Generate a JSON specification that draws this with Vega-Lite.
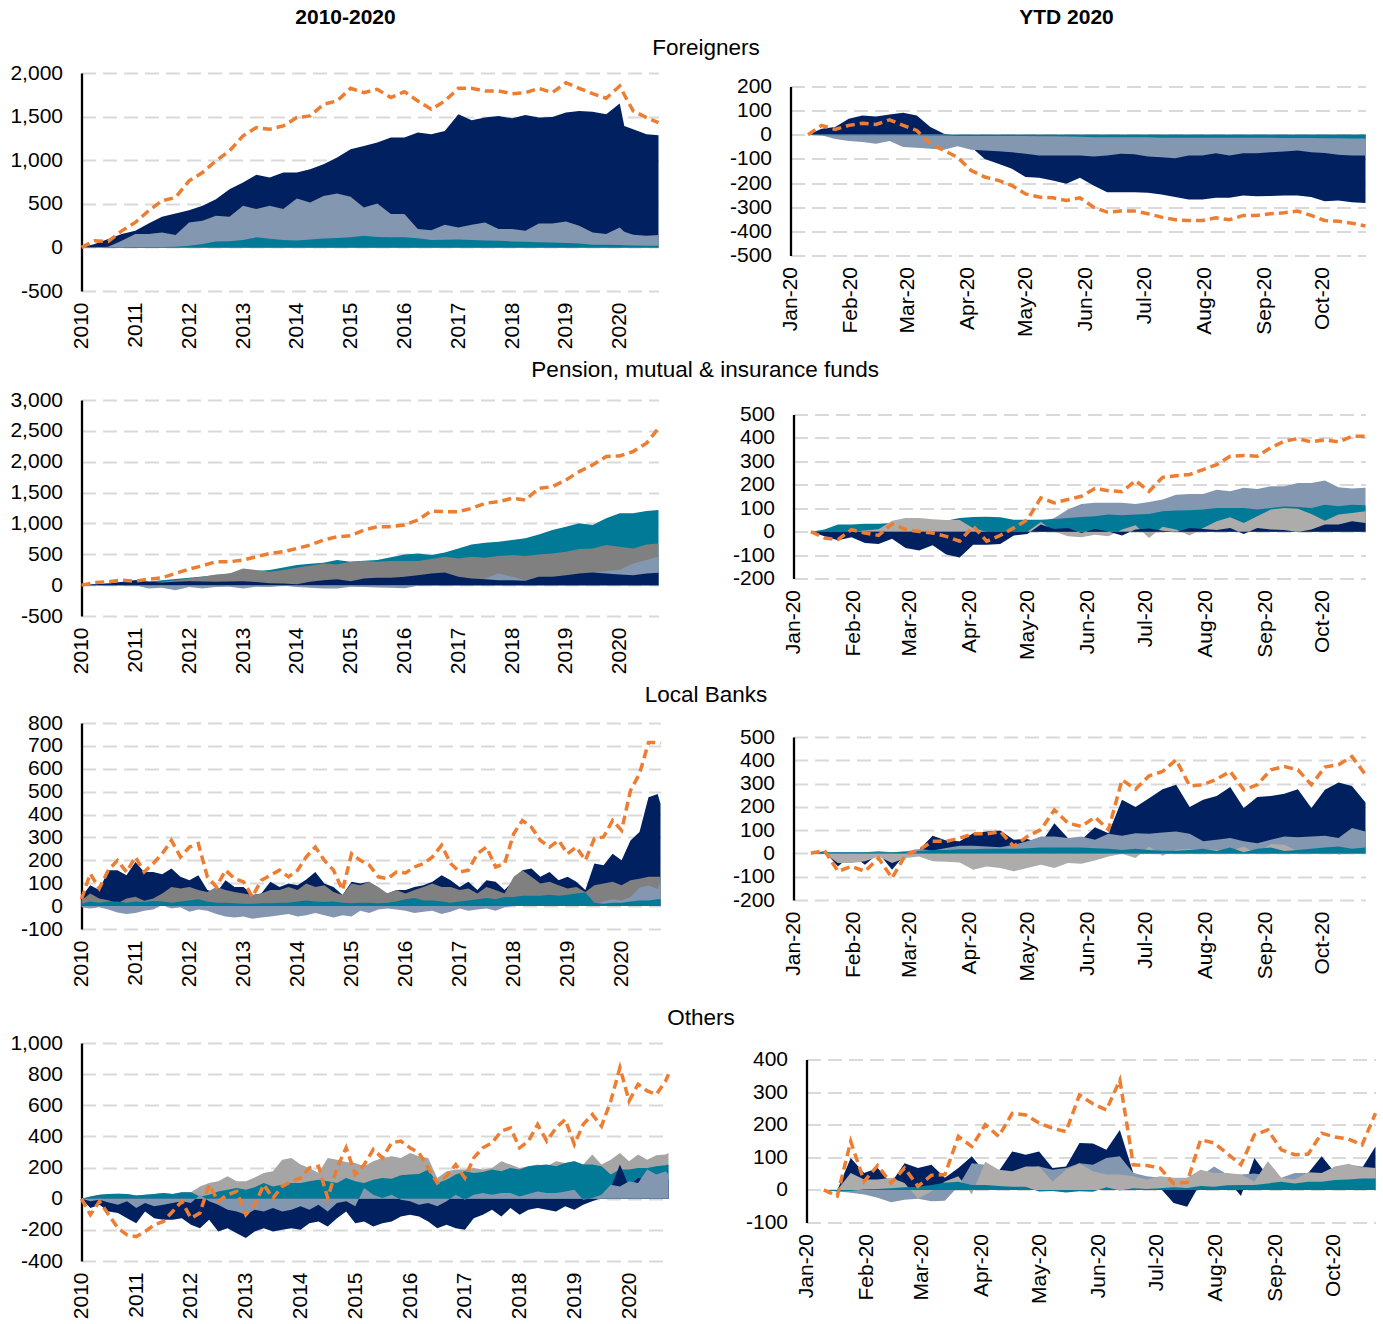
{
"$schema":"https://vega.github.io/schema/vega-lite/v6.json",
"padding":{"left":9.5,"top":7,"right":2,"bottom":5},
"background":"white",
"config":{
 "view":{"stroke":null},
 "font":"Liberation Sans",
 "axis":{"labelFont":"Liberation Sans","labelFontSize":21,"labelColor":"#000","ticks":false,"grid":false,"domain":false,"title":null},
 "axisY":{"grid":true,"gridColor":"#D9D9D9","gridWidth":2,"gridDash":[14,7],"domain":true,"domainColor":"#000","domainWidth":2.3,"labelPadding":19,"labelOverlap":false},
 "axisX":{"labelAngle":-90,"labelPadding":11,"labelFlush":false,"labelOverlap":false},
 "title":{"font":"Liberation Sans","fontSize":22.5,"fontWeight":"normal","color":"#000"}
},
"spacing":8,
"vconcat":[
 {"hconcat":[
   {"width":528,"height":1,"data":{"values":[]},"mark":"point","title":{"text":"2010-2020","fontWeight":"bold","fontSize":21,"anchor":"middle","offset":0}},
   {"width":300,"height":1,"data":{"values":[]},"mark":"point","title":{"text":"YTD 2020","fontWeight":"bold","fontSize":21,"anchor":"middle","dx":307,"offset":0}}
  ],"spacing":0},
 {"title":{"text":"Foreigners","anchor":"middle","dx":14.75,"offset":2.5},"spacing":63,
  "hconcat":[
    {"data":{"name":"L1"},"width":577,"height":218,
     "encoding":{"x":{"field":"d","type":"temporal","title":null,"scale":{"domain":[{"year":2010,"month":1,"date":1},{"year":2020,"month":9,"date":20}]},"axis":{"format":"%Y","tickCount":{"interval":"year","step":1},"minExtent":60,"maxExtent":60}}},
     "layer":[
      {"mark":{"type":"area","color":"#002060"},"encoding":{"y":{"field":"n","type":"quantitative","title":null,"scale":{"domain":[-500,2000],"nice":false},"axis":{"values":[-500,0,500,1000,1500,2000],"tickCount":20,"format":",.0f","labelOverlap":false,"labelExpr":"replace(datum.label,'\u2212','-')"}}}},
      {"mark":{"type":"area","color":"#8497B0"},"encoding":{"y":{"field":"b","type":"quantitative","title":null}}},
      {"mark":{"type":"area","color":"#007A96"},"encoding":{"y":{"field":"t","type":"quantitative","title":null}}},
      {"mark":{"type":"rule","color":"#000","strokeWidth":2.5},"encoding":{"y":{"datum":0,"type":"quantitative"}}},
      {"mark":{"type":"line","color":"#ED7D31","strokeWidth":3.5,"strokeDash":[9,5]},"encoding":{"y":{"field":"o","type":"quantitative","title":null}}}
     ]},
    {"spacing":1.5,"vconcat":[{"width":10,"height":1,"data":{"values":[]},"mark":"point"},
     {"data":{"name":"R1"},"width":575,"height":169,
      "encoding":{"x":{"field":"d","type":"temporal","title":null,"scale":{"domain":[{"year":2020,"month":1,"date":1},{"year":2020,"month":10,"date":23}]},"axis":{"format":"%b-%y","tickCount":{"interval":"month","step":1},"minExtent":82,"maxExtent":82}}},
      "layer":[
       {"mark":{"type":"area","color":"#002060"},"encoding":{"y":{"field":"n","type":"quantitative","title":null,"scale":{"domain":[-500,200],"nice":false},"axis":{"values":[-500,-400,-300,-200,-100,0,100,200],"tickCount":20,"format":",.0f","labelOverlap":false,"labelExpr":"replace(datum.label,'\u2212','-')"}}}},
       {"mark":{"type":"area","color":"#8497B0"},"encoding":{"y":{"field":"b","type":"quantitative","title":null}}},
       {"mark":{"type":"area","color":"#007A96"},"encoding":{"y":{"field":"t","type":"quantitative","title":null}}},
       {"mark":{"type":"rule","color":"#000","strokeWidth":2.5},"encoding":{"y":{"datum":0,"type":"quantitative"}}},
       {"mark":{"type":"line","color":"#ED7D31","strokeWidth":3.5,"strokeDash":[9,5]},"encoding":{"y":{"field":"o","type":"quantitative","title":null}}}
      ]}]}
  ]},
 {"title":{"text":"Pension, mutual & insurance funds","anchor":"middle","dx":14,"offset":7.5},"spacing":66,
  "hconcat":[
    {"data":{"name":"L2"},"width":577,"height":216,
     "encoding":{"x":{"field":"d","type":"temporal","title":null,"scale":{"domain":[{"year":2010,"month":1,"date":1},{"year":2020,"month":9,"date":20}]},"axis":{"format":"%Y","tickCount":{"interval":"year","step":1},"minExtent":60,"maxExtent":60}}},
     "layer":[
      {"mark":{"type":"area","color":"#007A96"},"encoding":{"y":{"field":"t","type":"quantitative","title":null,"scale":{"domain":[-500,3000],"nice":false},"axis":{"values":[-500,0,500,1000,1500,2000,2500,3000],"tickCount":20,"format":",.0f","labelOverlap":false,"labelExpr":"replace(datum.label,'\u2212','-')"}}}},
      {"mark":{"type":"area","color":"#808080"},"encoding":{"y":{"field":"g","type":"quantitative","title":null}}},
      {"mark":{"type":"area","color":"#8497B0"},"encoding":{"y":{"field":"b","type":"quantitative","title":null}}},
      {"mark":{"type":"area","color":"#002060"},"encoding":{"y":{"field":"n","type":"quantitative","title":null}}},
      {"mark":{"type":"rule","color":"#000","strokeWidth":2.5},"encoding":{"y":{"datum":0,"type":"quantitative"}}},
      {"mark":{"type":"line","color":"#ED7D31","strokeWidth":3.5,"strokeDash":[9,5]},"encoding":{"y":{"field":"o","type":"quantitative","title":null}}}
     ]},
    {"spacing":2.5,"vconcat":[{"width":10,"height":1,"data":{"values":[]},"mark":"point"},
     {"data":{"name":"R2"},"width":572,"height":164,
      "encoding":{"x":{"field":"d","type":"temporal","title":null,"scale":{"domain":[{"year":2020,"month":1,"date":1},{"year":2020,"month":10,"date":23}]},"axis":{"format":"%b-%y","tickCount":{"interval":"month","step":1},"minExtent":82,"maxExtent":82}}},
      "layer":[
       {"mark":{"type":"area","color":"#8497B0"},"encoding":{"y":{"field":"b","type":"quantitative","title":null,"scale":{"domain":[-200,500],"nice":false},"axis":{"values":[-200,-100,0,100,200,300,400,500],"tickCount":20,"format":",.0f","labelOverlap":false,"labelExpr":"replace(datum.label,'\u2212','-')"}}}},
       {"mark":{"type":"area","color":"#007A96"},"encoding":{"y":{"field":"t","type":"quantitative","title":null}}},
       {"mark":{"type":"area","color":"#AEABAB"},"encoding":{"y":{"field":"g","type":"quantitative","title":null}}},
       {"mark":{"type":"area","color":"#002060"},"encoding":{"y":{"field":"n","type":"quantitative","title":null}}},
       {"mark":{"type":"rule","color":"#000","strokeWidth":2.5},"encoding":{"y":{"datum":0,"type":"quantitative"}}},
       {"mark":{"type":"line","color":"#ED7D31","strokeWidth":3.5,"strokeDash":[9,5]},"encoding":{"y":{"field":"o","type":"quantitative","title":null}}}
      ]}]}
  ]},
 {"title":{"text":"Local Banks","anchor":"middle","dx":9.5,"offset":5.5},"spacing":64,
  "hconcat":[
    {"data":{"name":"L3"},"width":579,"height":206,
     "encoding":{"x":{"field":"d","type":"temporal","title":null,"scale":{"domain":[{"year":2010,"month":1,"date":1},{"year":2020,"month":9,"date":20}]},"axis":{"format":"%Y","tickCount":{"interval":"year","step":1},"minExtent":69,"maxExtent":69}}},
     "layer":[
      {"mark":{"type":"area","color":"#002060"},"encoding":{"y":{"field":"n","type":"quantitative","title":null,"scale":{"domain":[-100,800],"nice":false},"axis":{"values":[-100,0,100,200,300,400,500,600,700,800],"tickCount":20,"format":",.0f","labelOverlap":false,"labelExpr":"replace(datum.label,'\u2212','-')"}}}},
      {"mark":{"type":"area","color":"#808080"},"encoding":{"y":{"field":"g","type":"quantitative","title":null}}},
      {"mark":{"type":"area","color":"#8497B0"},"encoding":{"y":{"field":"b","type":"quantitative","title":null}}},
      {"mark":{"type":"area","color":"#007A96"},"encoding":{"y":{"field":"t","type":"quantitative","title":null}}},
      {"mark":{"type":"rule","color":"#000","strokeWidth":2.5},"encoding":{"y":{"datum":0,"type":"quantitative"}}},
      {"mark":{"type":"line","color":"#ED7D31","strokeWidth":3.5,"strokeDash":[9,5]},"encoding":{"y":{"field":"o","type":"quantitative","title":null}}}
     ]},
    {"spacing":2,"vconcat":[{"width":10,"height":1,"data":{"values":[]},"mark":"point"},
     {"data":{"name":"R3"},"width":572,"height":163,
      "encoding":{"x":{"field":"d","type":"temporal","title":null,"scale":{"domain":[{"year":2020,"month":1,"date":1},{"year":2020,"month":10,"date":23}]},"axis":{"format":"%b-%y","tickCount":{"interval":"month","step":1},"minExtent":82,"maxExtent":82}}},
      "layer":[
       {"mark":{"type":"area","color":"#002060"},"encoding":{"y":{"field":"n","type":"quantitative","title":null,"scale":{"domain":[-200,500],"nice":false},"axis":{"values":[-200,-100,0,100,200,300,400,500],"tickCount":20,"format":",.0f","labelOverlap":false,"labelExpr":"replace(datum.label,'\u2212','-')"}}}},
       {"mark":{"type":"area","color":"#8497B0"},"encoding":{"y":{"field":"b","type":"quantitative","title":null}}},
       {"mark":{"type":"area","color":"#AEABAB"},"encoding":{"y":{"field":"g","type":"quantitative","title":null}}},
       {"mark":{"type":"area","color":"#007A96"},"encoding":{"y":{"field":"t","type":"quantitative","title":null}}},
       {"mark":{"type":"rule","color":"#000","strokeWidth":2.5},"encoding":{"y":{"datum":0,"type":"quantitative"}}},
       {"mark":{"type":"line","color":"#ED7D31","strokeWidth":3.5,"strokeDash":[9,5]},"encoding":{"y":{"field":"o","type":"quantitative","title":null}}}
      ]}]}
  ]},
 {"title":{"text":"Others","anchor":"middle","dx":4.75,"offset":3},"spacing":69,
  "hconcat":[
    {"data":{"name":"L4"},"width":587,"height":218,
     "encoding":{"x":{"field":"d","type":"temporal","title":null,"scale":{"domain":[{"year":2010,"month":1,"date":1},{"year":2020,"month":9,"date":20}]},"axis":{"format":"%Y","tickCount":{"interval":"year","step":1},"minExtent":60,"maxExtent":60}}},
     "layer":[
      {"mark":{"type":"area","color":"#A5A5A5"},"encoding":{"y":{"field":"g","type":"quantitative","title":null,"scale":{"domain":[-400,1000],"nice":false},"axis":{"values":[-400,-200,0,200,400,600,800,1000],"tickCount":20,"format":",.0f","labelOverlap":false,"labelExpr":"replace(datum.label,'\u2212','-')"}}}},
      {"mark":{"type":"area","color":"#007A96"},"encoding":{"y":{"field":"t","type":"quantitative","title":null}}},
      {"mark":{"type":"area","color":"#002060"},"encoding":{"y":{"field":"n","type":"quantitative","title":null}}},
      {"mark":{"type":"area","color":"#8497B0"},"encoding":{"y":{"field":"b","type":"quantitative","title":null}}},
      {"mark":{"type":"rule","color":"#000","strokeWidth":2.5},"encoding":{"y":{"datum":0,"type":"quantitative"}}},
      {"mark":{"type":"line","color":"#ED7D31","strokeWidth":3.5,"strokeDash":[9,5]},"encoding":{"y":{"field":"o","type":"quantitative","title":null}}}
     ]},
    {"spacing":4.5,"vconcat":[{"width":10,"height":1,"data":{"values":[]},"mark":"point"},
     {"data":{"name":"R4"},"width":569,"height":163,
      "encoding":{"x":{"field":"d","type":"temporal","title":null,"scale":{"domain":[{"year":2020,"month":1,"date":1},{"year":2020,"month":10,"date":23}]},"axis":{"format":"%b-%y","tickCount":{"interval":"month","step":1},"minExtent":82,"maxExtent":82}}},
      "layer":[
       {"mark":{"type":"area","color":"#002060"},"encoding":{"y":{"field":"n","type":"quantitative","title":null,"scale":{"domain":[-100,400],"nice":false},"axis":{"values":[-100,0,100,200,300,400],"tickCount":20,"format":",.0f","labelOverlap":false,"labelExpr":"replace(datum.label,'\u2212','-')"}}}},
       {"mark":{"type":"area","color":"#8497B0"},"encoding":{"y":{"field":"b","type":"quantitative","title":null}}},
       {"mark":{"type":"area","color":"#AEABAB"},"encoding":{"y":{"field":"g","type":"quantitative","title":null}}},
       {"mark":{"type":"area","color":"#007A96"},"encoding":{"y":{"field":"t","type":"quantitative","title":null}}},
       {"mark":{"type":"rule","color":"#000","strokeWidth":2.5},"encoding":{"y":{"datum":0,"type":"quantitative"}}},
       {"mark":{"type":"line","color":"#ED7D31","strokeWidth":3.5,"strokeDash":[9,5]},"encoding":{"y":{"field":"o","type":"quantitative","title":null}}}
      ]}]}
  ]}
],
"datasets":{
"L1":[
{"d":"2010/01/01","o":0,"n":0,"b":0,"t":0},
{"d":"2010/04/01","o":76,"n":38,"b":0,"t":0},
{"d":"2010/07/01","o":69,"n":95,"b":8,"t":2},
{"d":"2010/10/01","o":190,"n":153,"b":76,"t":3},
{"d":"2011/01/01","o":286,"n":191,"b":153,"t":5},
{"d":"2011/04/01","o":420,"n":275,"b":153,"t":5},
{"d":"2011/07/01","o":534,"n":351,"b":172,"t":6},
{"d":"2011/10/01","o":573,"n":389,"b":141,"t":8},
{"d":"2012/01/01","o":763,"n":427,"b":286,"t":19},
{"d":"2012/04/01","o":859,"n":477,"b":305,"t":40},
{"d":"2012/07/01","o":992,"n":553,"b":363,"t":69},
{"d":"2012/10/01","o":1107,"n":668,"b":351,"t":70},
{"d":"2013/01/01","o":1279,"n":744,"b":477,"t":84},
{"d":"2013/04/01","o":1374,"n":832,"b":439,"t":115},
{"d":"2013/07/01","o":1355,"n":802,"b":477,"t":100},
{"d":"2013/10/01","o":1393,"n":859,"b":439,"t":84},
{"d":"2014/01/01","o":1489,"n":859,"b":560,"t":80},
{"d":"2014/04/01","o":1508,"n":897,"b":515,"t":90},
{"d":"2014/07/01","o":1641,"n":954,"b":590,"t":103},
{"d":"2014/10/01","o":1679,"n":1031,"b":618,"t":108},
{"d":"2015/01/01","o":1824,"n":1126,"b":580,"t":115},
{"d":"2015/04/01","o":1775,"n":1164,"b":458,"t":134},
{"d":"2015/07/01","o":1813,"n":1202,"b":504,"t":120},
{"d":"2015/10/01","o":1718,"n":1260,"b":382,"t":115},
{"d":"2016/01/01","o":1786,"n":1260,"b":382,"t":115},
{"d":"2016/04/01","o":1679,"n":1317,"b":210,"t":105},
{"d":"2016/07/01","o":1584,"n":1298,"b":198,"t":84},
{"d":"2016/10/01","o":1679,"n":1336,"b":260,"t":88},
{"d":"2017/01/01","o":1824,"n":1527,"b":229,"t":92},
{"d":"2017/04/01","o":1824,"n":1458,"b":260,"t":85},
{"d":"2017/07/01","o":1794,"n":1489,"b":286,"t":80},
{"d":"2017/10/01","o":1794,"n":1508,"b":210,"t":75},
{"d":"2018/01/01","o":1763,"n":1481,"b":210,"t":69},
{"d":"2018/04/01","o":1775,"n":1519,"b":191,"t":65},
{"d":"2018/07/01","o":1824,"n":1489,"b":275,"t":60},
{"d":"2018/10/01","o":1775,"n":1496,"b":275,"t":55},
{"d":"2019/01/01","o":1889,"n":1546,"b":298,"t":50},
{"d":"2019/04/01","o":1824,"n":1565,"b":248,"t":45},
{"d":"2019/07/01","o":1763,"n":1557,"b":172,"t":31},
{"d":"2019/10/01","o":1710,"n":1527,"b":153,"t":30},
{"d":"2020/01/01","o":1851,"n":1649,"b":229,"t":27},
{"d":"2020/02/01","o":1750,"n":1393,"b":180,"t":25},
{"d":"2020/04/01","o":1565,"n":1355,"b":145,"t":22},
{"d":"2020/07/01","o":1489,"n":1298,"b":134,"t":20},
{"d":"2020/09/20","o":1431,"n":1286,"b":141,"t":19}
],
"L2":[
{"d":"2010/01/01","o":0,"n":0,"b":0,"t":0,"g":0},
{"d":"2010/04/01","o":43,"n":15,"b":0,"t":15,"g":10},
{"d":"2010/07/01","o":54,"n":27,"b":0,"t":27,"g":15},
{"d":"2010/10/01","o":81,"n":50,"b":0,"t":50,"g":30},
{"d":"2011/01/01","o":65,"n":81,"b":0,"t":81,"g":40},
{"d":"2011/04/01","o":97,"n":54,"b":-54,"t":60,"g":50},
{"d":"2011/07/01","o":119,"n":43,"b":-43,"t":81,"g":55},
{"d":"2011/10/01","o":189,"n":55,"b":-81,"t":100,"g":80},
{"d":"2012/01/01","o":260,"n":65,"b":-32,"t":119,"g":108},
{"d":"2012/04/01","o":314,"n":60,"b":-54,"t":140,"g":135},
{"d":"2012/07/01","o":379,"n":54,"b":-32,"t":162,"g":173},
{"d":"2012/10/01","o":379,"n":60,"b":-27,"t":190,"g":189},
{"d":"2013/01/01","o":406,"n":65,"b":-54,"t":216,"g":271},
{"d":"2013/04/01","o":460,"n":50,"b":-27,"t":230,"g":244},
{"d":"2013/07/01","o":514,"n":32,"b":-32,"t":244,"g":216},
{"d":"2013/10/01","o":541,"n":25,"b":-11,"t":285,"g":244},
{"d":"2014/01/01","o":595,"n":16,"b":-32,"t":325,"g":281},
{"d":"2014/04/01","o":649,"n":54,"b":-43,"t":345,"g":314},
{"d":"2014/07/01","o":731,"n":81,"b":-54,"t":363,"g":352},
{"d":"2014/10/01","o":785,"n":97,"b":-54,"t":406,"g":335},
{"d":"2015/01/01","o":801,"n":65,"b":-27,"t":379,"g":379},
{"d":"2015/04/01","o":893,"n":108,"b":-32,"t":395,"g":390},
{"d":"2015/07/01","o":947,"n":119,"b":-38,"t":406,"g":379},
{"d":"2015/10/01","o":947,"n":119,"b":-43,"t":450,"g":390},
{"d":"2016/01/01","o":974,"n":135,"b":-49,"t":498,"g":390},
{"d":"2016/04/01","o":1055,"n":162,"b":-11,"t":514,"g":390},
{"d":"2016/07/01","o":1201,"n":189,"b":0,"t":487,"g":422},
{"d":"2016/10/01","o":1190,"n":206,"b":27,"t":530,"g":460},
{"d":"2017/01/01","o":1190,"n":135,"b":54,"t":595,"g":433},
{"d":"2017/04/01","o":1245,"n":108,"b":54,"t":660,"g":460},
{"d":"2017/07/01","o":1326,"n":97,"b":108,"t":687,"g":444},
{"d":"2017/10/01","o":1353,"n":81,"b":189,"t":703,"g":471},
{"d":"2018/01/01","o":1407,"n":81,"b":135,"t":731,"g":487},
{"d":"2018/04/01","o":1380,"n":70,"b":81,"t":758,"g":471},
{"d":"2018/07/01","o":1569,"n":135,"b":100,"t":822,"g":498},
{"d":"2018/10/01","o":1596,"n":135,"b":120,"t":893,"g":514},
{"d":"2019/01/01","o":1705,"n":162,"b":150,"t":947,"g":541},
{"d":"2019/04/01","o":1840,"n":189,"b":180,"t":1001,"g":584},
{"d":"2019/07/01","o":1948,"n":206,"b":200,"t":974,"g":595},
{"d":"2019/10/01","o":2083,"n":189,"b":230,"t":1082,"g":649},
{"d":"2020/01/01","o":2094,"n":173,"b":250,"t":1163,"g":622},
{"d":"2020/04/01","o":2165,"n":162,"b":352,"t":1163,"g":595},
{"d":"2020/07/01","o":2300,"n":189,"b":406,"t":1201,"g":660},
{"d":"2020/09/20","o":2543,"n":200,"b":460,"t":1218,"g":676}
],
"L3":[
{"d":"2010/01/01","o":30,"n":41,"g":26,"b":-5,"t":10},
{"d":"2010/03/01","o":142,"n":91,"g":55,"b":-10,"t":20},
{"d":"2010/05/01","o":77,"n":70,"g":33,"b":-5,"t":15},
{"d":"2010/07/01","o":157,"n":157,"g":26,"b":-15,"t":20},
{"d":"2010/09/01","o":200,"n":157,"g":12,"b":-28,"t":20},
{"d":"2010/11/01","o":149,"n":135,"g":33,"b":-35,"t":15},
{"d":"2011/01/01","o":215,"n":193,"g":41,"b":-30,"t":20},
{"d":"2011/03/01","o":149,"n":149,"g":23,"b":-20,"t":18},
{"d":"2011/05/01","o":186,"n":149,"g":33,"b":-15,"t":22},
{"d":"2011/07/01","o":229,"n":139,"g":55,"b":5,"t":20},
{"d":"2011/09/01","o":287,"n":164,"g":84,"b":-10,"t":15},
{"d":"2011/11/01","o":215,"n":128,"g":77,"b":-5,"t":20},
{"d":"2012/01/01","o":258,"n":113,"g":84,"b":-25,"t":25},
{"d":"2012/03/01","o":273,"n":135,"g":70,"b":-15,"t":30},
{"d":"2012/05/01","o":128,"n":70,"g":62,"b":-20,"t":20},
{"d":"2012/07/01","o":84,"n":58,"g":84,"b":-35,"t":15},
{"d":"2012/09/01","o":157,"n":113,"g":70,"b":-45,"t":15},
{"d":"2012/11/01","o":120,"n":84,"g":62,"b":-50,"t":12},
{"d":"2013/01/01","o":106,"n":84,"g":55,"b":-45,"t":10},
{"d":"2013/03/01","o":41,"n":48,"g":48,"b":-55,"t":10},
{"d":"2013/05/01","o":113,"n":55,"g":55,"b":-50,"t":12},
{"d":"2013/07/01","o":135,"n":106,"g":70,"b":-45,"t":12},
{"d":"2013/09/01","o":157,"n":84,"g":70,"b":-40,"t":15},
{"d":"2013/11/01","o":128,"n":99,"g":84,"b":-35,"t":15},
{"d":"2014/01/01","o":157,"n":91,"g":70,"b":-45,"t":20},
{"d":"2014/03/01","o":215,"n":116,"g":99,"b":-40,"t":25},
{"d":"2014/05/01","o":258,"n":149,"g":84,"b":-30,"t":20},
{"d":"2014/07/01","o":200,"n":99,"g":91,"b":-40,"t":18},
{"d":"2014/09/01","o":157,"n":84,"g":62,"b":-50,"t":20},
{"d":"2014/11/01","o":70,"n":48,"g":48,"b":-40,"t":15},
{"d":"2015/01/01","o":229,"n":106,"g":99,"b":-45,"t":12},
{"d":"2015/03/01","o":200,"n":99,"g":91,"b":-20,"t":15},
{"d":"2015/05/01","o":179,"n":106,"g":106,"b":-30,"t":15},
{"d":"2015/07/01","o":128,"n":70,"g":84,"b":-15,"t":12},
{"d":"2015/09/01","o":120,"n":55,"g":55,"b":-10,"t":15},
{"d":"2015/11/01","o":149,"n":70,"g":70,"b":-15,"t":20},
{"d":"2016/01/01","o":145,"n":70,"g":55,"b":-20,"t":30},
{"d":"2016/03/01","o":171,"n":84,"g":70,"b":-30,"t":35},
{"d":"2016/05/01","o":186,"n":91,"g":84,"b":-25,"t":25},
{"d":"2016/07/01","o":215,"n":106,"g":99,"b":-20,"t":25},
{"d":"2016/09/01","o":266,"n":135,"g":84,"b":-35,"t":20},
{"d":"2016/11/01","o":186,"n":113,"g":84,"b":-25,"t":15},
{"d":"2017/01/01","o":149,"n":84,"g":70,"b":-10,"t":20},
{"d":"2017/03/01","o":157,"n":106,"g":77,"b":-20,"t":25},
{"d":"2017/05/01","o":229,"n":70,"g":55,"b":-15,"t":30},
{"d":"2017/07/01","o":258,"n":113,"g":84,"b":-10,"t":35},
{"d":"2017/09/01","o":171,"n":106,"g":70,"b":-20,"t":30},
{"d":"2017/11/01","o":186,"n":70,"g":55,"b":-5,"t":40},
{"d":"2018/01/01","o":316,"n":113,"g":128,"b":0,"t":40},
{"d":"2018/03/01","o":374,"n":157,"g":157,"b":0,"t":45},
{"d":"2018/05/01","o":345,"n":164,"g":128,"b":0,"t":45},
{"d":"2018/07/01","o":287,"n":128,"g":99,"b":0,"t":45},
{"d":"2018/09/01","o":258,"n":149,"g":106,"b":0,"t":50},
{"d":"2018/11/01","o":287,"n":113,"g":91,"b":0,"t":45},
{"d":"2019/01/01","o":229,"n":128,"g":77,"b":0,"t":50},
{"d":"2019/03/01","o":258,"n":106,"g":84,"b":0,"t":55},
{"d":"2019/05/01","o":200,"n":70,"g":62,"b":0,"t":60},
{"d":"2019/07/01","o":295,"n":186,"g":91,"b":10,"t":15},
{"d":"2019/09/01","o":302,"n":179,"g":99,"b":20,"t":10},
{"d":"2019/11/01","o":374,"n":229,"g":106,"b":30,"t":15},
{"d":"2020/01/01","o":331,"n":200,"g":91,"b":25,"t":15},
{"d":"2020/03/01","o":505,"n":287,"g":113,"b":40,"t":20},
{"d":"2020/05/01","o":578,"n":324,"g":120,"b":80,"t":25},
{"d":"2020/07/01","o":715,"n":476,"g":128,"b":90,"t":25},
{"d":"2020/09/01","o":715,"n":490,"g":128,"b":75,"t":30},
{"d":"2020/09/20","o":711,"n":447,"g":128,"b":110,"t":30}
],
"L4":[
{"d":"2010/01/01","o":0,"n":0,"b":0,"t":0,"g":0},
{"d":"2010/03/01","o":-103,"n":-60,"b":-17,"t":15,"g":15},
{"d":"2010/05/01","o":-17,"n":-39,"b":-6,"t":26,"g":26},
{"d":"2010/07/01","o":-103,"n":-82,"b":-24,"t":30,"g":30},
{"d":"2010/09/01","o":-189,"n":-92,"b":-39,"t":32,"g":32},
{"d":"2010/11/01","o":-232,"n":-125,"b":-17,"t":30,"g":30},
{"d":"2011/01/01","o":-243,"n":-157,"b":-60,"t":21,"g":21},
{"d":"2011/03/01","o":-211,"n":-82,"b":-28,"t":26,"g":26},
{"d":"2011/05/01","o":-168,"n":-125,"b":-49,"t":30,"g":30},
{"d":"2011/07/01","o":-146,"n":-135,"b":-39,"t":37,"g":37},
{"d":"2011/09/01","o":-82,"n":-135,"b":-28,"t":30,"g":30},
{"d":"2011/11/01","o":-17,"n":-125,"b":-17,"t":41,"g":41},
{"d":"2012/01/01","o":-125,"n":-168,"b":-28,"t":41,"g":41},
{"d":"2012/03/01","o":-92,"n":-189,"b":26,"t":15,"g":79},
{"d":"2012/05/01","o":90,"n":-135,"b":-17,"t":26,"g":101},
{"d":"2012/07/01","o":-17,"n":-211,"b":-39,"t":47,"g":112},
{"d":"2012/09/01","o":26,"n":-189,"b":-71,"t":58,"g":144},
{"d":"2012/11/01","o":47,"n":-221,"b":-82,"t":69,"g":112},
{"d":"2013/01/01","o":-103,"n":-253,"b":-103,"t":58,"g":112},
{"d":"2013/03/01","o":-39,"n":-211,"b":-71,"t":73,"g":137},
{"d":"2013/05/01","o":90,"n":-189,"b":-82,"t":101,"g":165},
{"d":"2013/07/01","o":4,"n":-211,"b":-60,"t":79,"g":176},
{"d":"2013/09/01","o":79,"n":-200,"b":-82,"t":90,"g":251},
{"d":"2013/11/01","o":112,"n":-189,"b":-71,"t":101,"g":262},
{"d":"2014/01/01","o":133,"n":-200,"b":-49,"t":101,"g":219},
{"d":"2014/03/01","o":198,"n":-157,"b":-71,"t":112,"g":198},
{"d":"2014/05/01","o":208,"n":-146,"b":-39,"t":122,"g":165},
{"d":"2014/07/01","o":4,"n":-178,"b":-82,"t":112,"g":262},
{"d":"2014/09/01","o":198,"n":-125,"b":-28,"t":101,"g":251},
{"d":"2014/11/01","o":327,"n":-82,"b":-17,"t":133,"g":236},
{"d":"2015/01/01","o":155,"n":-157,"b":-49,"t":112,"g":230},
{"d":"2015/03/01","o":219,"n":-146,"b":69,"t":101,"g":208},
{"d":"2015/05/01","o":316,"n":-178,"b":26,"t":122,"g":241},
{"d":"2015/07/01","o":262,"n":-157,"b":4,"t":133,"g":262},
{"d":"2015/09/01","o":359,"n":-146,"b":26,"t":129,"g":273},
{"d":"2015/11/01","o":370,"n":-114,"b":-6,"t":150,"g":262},
{"d":"2016/01/01","o":327,"n":-103,"b":-17,"t":155,"g":294},
{"d":"2016/03/01","o":294,"n":-114,"b":-39,"t":159,"g":273},
{"d":"2016/05/01","o":198,"n":-146,"b":-28,"t":187,"g":262},
{"d":"2016/07/01","o":101,"n":-189,"b":-49,"t":101,"g":133},
{"d":"2016/09/01","o":144,"n":-168,"b":-17,"t":122,"g":176},
{"d":"2016/11/01","o":219,"n":-189,"b":26,"t":155,"g":187},
{"d":"2017/01/01","o":133,"n":-200,"b":-6,"t":176,"g":187},
{"d":"2017/03/01","o":262,"n":-125,"b":26,"t":165,"g":198},
{"d":"2017/05/01","o":327,"n":-103,"b":37,"t":172,"g":187},
{"d":"2017/07/01","o":359,"n":-71,"b":26,"t":187,"g":198},
{"d":"2017/09/01","o":434,"n":-114,"b":37,"t":176,"g":241},
{"d":"2017/11/01","o":455,"n":-60,"b":37,"t":198,"g":219},
{"d":"2018/01/01","o":327,"n":-103,"b":15,"t":187,"g":198},
{"d":"2018/03/01","o":370,"n":-71,"b":30,"t":208,"g":208},
{"d":"2018/05/01","o":477,"n":-60,"b":47,"t":215,"g":219},
{"d":"2018/07/01","o":370,"n":-71,"b":37,"t":219,"g":208},
{"d":"2018/09/01","o":455,"n":-82,"b":37,"t":208,"g":241},
{"d":"2018/11/01","o":509,"n":-49,"b":47,"t":230,"g":230},
{"d":"2019/01/01","o":348,"n":-71,"b":58,"t":241,"g":241},
{"d":"2019/03/01","o":477,"n":-39,"b":-6,"t":219,"g":219},
{"d":"2019/05/01","o":541,"n":-17,"b":4,"t":219,"g":284},
{"d":"2019/07/01","o":466,"n":4,"b":26,"t":208,"g":219},
{"d":"2019/09/01","o":627,"n":69,"b":90,"t":155,"g":251},
{"d":"2019/11/01","o":842,"n":219,"b":79,"t":187,"g":294},
{"d":"2020/01/01","o":627,"n":79,"b":112,"t":187,"g":241},
{"d":"2020/03/01","o":735,"n":133,"b":101,"t":198,"g":284},
{"d":"2020/05/01","o":692,"n":122,"b":187,"t":198,"g":251},
{"d":"2020/07/01","o":670,"n":133,"b":155,"t":208,"g":279},
{"d":"2020/09/01","o":756,"n":155,"b":176,"t":215,"g":284},
{"d":"2020/09/20","o":799,"n":122,"b":155,"t":219,"g":294}
],
"R1":[
{"d":"2020/01/10","o":0,"n":0,"b":0,"t":-1},
{"d":"2020/01/17","o":39,"n":25,"b":-2,"t":-2},
{"d":"2020/01/24","o":22,"n":32,"b":-17,"t":-2},
{"d":"2020/01/31","o":39,"n":66,"b":-26,"t":-2},
{"d":"2020/02/07","o":48,"n":80,"b":-30,"t":-2},
{"d":"2020/02/14","o":43,"n":76,"b":-37,"t":-2},
{"d":"2020/02/21","o":62,"n":84,"b":-26,"t":-2},
{"d":"2020/02/28","o":39,"n":91,"b":-51,"t":-2},
{"d":"2020/03/06","o":18,"n":80,"b":-54,"t":-2},
{"d":"2020/03/13","o":-37,"n":32,"b":-58,"t":-3},
{"d":"2020/03/20","o":-65,"n":4,"b":-62,"t":-3},
{"d":"2020/03/27","o":-93,"n":-3,"b":-48,"t":-5},
{"d":"2020/04/03","o":-148,"n":-51,"b":-62,"t":-5},
{"d":"2020/04/10","o":-175,"n":-100,"b":-65,"t":-5},
{"d":"2020/04/17","o":-189,"n":-120,"b":-68,"t":-5},
{"d":"2020/04/24","o":-210,"n":-141,"b":-72,"t":-5},
{"d":"2020/05/01","o":-245,"n":-175,"b":-79,"t":-5},
{"d":"2020/05/08","o":-258,"n":-178,"b":-86,"t":-6},
{"d":"2020/05/15","o":-261,"n":-189,"b":-86,"t":-6},
{"d":"2020/05/22","o":-272,"n":-203,"b":-86,"t":-7},
{"d":"2020/05/29","o":-261,"n":-178,"b":-86,"t":-8},
{"d":"2020/06/05","o":-300,"n":-210,"b":-90,"t":-10},
{"d":"2020/06/12","o":-320,"n":-238,"b":-86,"t":-10},
{"d":"2020/06/19","o":-316,"n":-238,"b":-79,"t":-10},
{"d":"2020/06/26","o":-316,"n":-238,"b":-81,"t":-10},
{"d":"2020/07/03","o":-327,"n":-240,"b":-90,"t":-10},
{"d":"2020/07/10","o":-341,"n":-247,"b":-93,"t":-12},
{"d":"2020/07/17","o":-352,"n":-258,"b":-97,"t":-12},
{"d":"2020/07/24","o":-355,"n":-268,"b":-86,"t":-12},
{"d":"2020/07/31","o":-355,"n":-268,"b":-86,"t":-12},
{"d":"2020/08/07","o":-344,"n":-261,"b":-76,"t":-12},
{"d":"2020/08/14","o":-352,"n":-261,"b":-86,"t":-12},
{"d":"2020/08/21","o":-334,"n":-251,"b":-76,"t":-12},
{"d":"2020/08/28","o":-334,"n":-255,"b":-76,"t":-12},
{"d":"2020/09/04","o":-327,"n":-254,"b":-72,"t":-12},
{"d":"2020/09/11","o":-323,"n":-251,"b":-69,"t":-13},
{"d":"2020/09/18","o":-316,"n":-251,"b":-65,"t":-13},
{"d":"2020/09/25","o":-334,"n":-258,"b":-72,"t":-13},
{"d":"2020/10/02","o":-355,"n":-275,"b":-75,"t":-14},
{"d":"2020/10/09","o":-358,"n":-272,"b":-83,"t":-14},
{"d":"2020/10/16","o":-366,"n":-279,"b":-86,"t":-15},
{"d":"2020/10/23","o":-378,"n":-283,"b":-86,"t":-15}
],
"R2":[
{"d":"2020/01/10","o":0,"b":0,"t":0,"g":0,"n":0},
{"d":"2020/01/17","o":-27,"b":5,"t":9,"g":0,"n":-20},
{"d":"2020/01/24","o":-34,"b":10,"t":30,"g":0,"n":-37},
{"d":"2020/01/31","o":9,"b":15,"t":30,"g":0,"n":-24},
{"d":"2020/02/07","o":-6,"b":20,"t":34,"g":5,"n":-48},
{"d":"2020/02/14","o":-16,"b":20,"t":34,"g":10,"n":-53},
{"d":"2020/02/21","o":33,"b":25,"t":37,"g":47,"n":-30},
{"d":"2020/02/28","o":9,"b":25,"t":44,"g":58,"n":-70},
{"d":"2020/03/06","o":1,"b":25,"t":44,"g":58,"n":-81},
{"d":"2020/03/13","o":-6,"b":25,"t":44,"g":53,"n":-58},
{"d":"2020/03/20","o":-20,"b":30,"t":47,"g":50,"n":-98},
{"d":"2020/03/27","o":-41,"b":30,"t":58,"g":50,"n":-110},
{"d":"2020/04/03","o":23,"b":30,"t":63,"g":15,"n":-56},
{"d":"2020/04/10","o":-41,"b":30,"t":64,"g":0,"n":-56},
{"d":"2020/04/17","o":-16,"b":30,"t":61,"g":0,"n":-53},
{"d":"2020/04/24","o":16,"b":35,"t":51,"g":0,"n":-16},
{"d":"2020/05/01","o":51,"b":47,"t":51,"g":0,"n":-10},
{"d":"2020/05/08","o":144,"b":41,"t":51,"g":41,"n":30},
{"d":"2020/05/15","o":123,"b":58,"t":54,"g":1,"n":11},
{"d":"2020/05/22","o":137,"b":94,"t":58,"g":-20,"n":16},
{"d":"2020/05/29","o":151,"b":118,"t":63,"g":-24,"n":-6},
{"d":"2020/06/05","o":184,"b":123,"t":66,"g":-13,"n":11},
{"d":"2020/06/12","o":175,"b":123,"t":73,"g":-20,"n":1},
{"d":"2020/06/19","o":170,"b":123,"t":70,"g":9,"n":-16},
{"d":"2020/06/26","o":218,"b":118,"t":73,"g":27,"n":9},
{"d":"2020/07/03","o":172,"b":127,"t":75,"g":-27,"n":13},
{"d":"2020/07/10","o":232,"b":137,"t":87,"g":21,"n":4},
{"d":"2020/07/17","o":239,"b":158,"t":90,"g":9,"n":-1},
{"d":"2020/07/24","o":244,"b":161,"t":91,"g":-16,"n":16},
{"d":"2020/07/31","o":265,"b":161,"t":94,"g":16,"n":11},
{"d":"2020/08/07","o":286,"b":179,"t":101,"g":44,"n":7},
{"d":"2020/08/14","o":322,"b":172,"t":101,"g":61,"n":16},
{"d":"2020/08/21","o":325,"b":187,"t":101,"g":37,"n":-10},
{"d":"2020/08/28","o":322,"b":182,"t":94,"g":66,"n":16},
{"d":"2020/09/04","o":358,"b":194,"t":101,"g":94,"n":9},
{"d":"2020/09/11","o":386,"b":194,"t":107,"g":101,"n":7},
{"d":"2020/09/18","o":397,"b":208,"t":105,"g":98,"n":-1},
{"d":"2020/09/25","o":383,"b":208,"t":101,"g":75,"n":9},
{"d":"2020/10/02","o":392,"b":218,"t":115,"g":47,"n":30},
{"d":"2020/10/09","o":383,"b":189,"t":108,"g":73,"n":30},
{"d":"2020/10/16","o":407,"b":184,"t":115,"g":80,"n":44},
{"d":"2020/10/23","o":407,"b":187,"t":113,"g":87,"n":37}
],
"R3":[
{"d":"2020/01/10","o":1,"n":0,"b":0,"g":0,"t":3},
{"d":"2020/01/17","o":13,"n":9,"b":5,"g":0,"t":5},
{"d":"2020/01/24","o":-77,"n":-56,"b":5,"g":-41,"t":5},
{"d":"2020/01/31","o":-56,"n":-6,"b":5,"g":-41,"t":5},
{"d":"2020/02/07","o":-77,"n":-49,"b":5,"g":-34,"t":5},
{"d":"2020/02/14","o":-20,"n":1,"b":10,"g":-13,"t":5},
{"d":"2020/02/21","o":-106,"n":-70,"b":5,"g":-41,"t":5},
{"d":"2020/02/28","o":-6,"n":-1,"b":8,"g":-20,"t":8},
{"d":"2020/03/06","o":16,"n":16,"b":19,"g":-13,"t":10},
{"d":"2020/03/13","o":52,"n":76,"b":13,"g":-34,"t":15},
{"d":"2020/03/20","o":52,"n":56,"b":23,"g":-36,"t":15},
{"d":"2020/03/27","o":66,"n":52,"b":33,"g":-39,"t":18},
{"d":"2020/04/03","o":84,"n":87,"b":33,"g":-70,"t":18},
{"d":"2020/04/10","o":84,"n":94,"b":30,"g":-56,"t":20},
{"d":"2020/04/17","o":94,"n":99,"b":27,"g":-63,"t":20},
{"d":"2020/04/24","o":30,"n":59,"b":37,"g":-77,"t":20},
{"d":"2020/05/01","o":73,"n":62,"b":52,"g":-63,"t":22},
{"d":"2020/05/08","o":102,"n":44,"b":73,"g":-49,"t":25},
{"d":"2020/05/15","o":187,"n":130,"b":73,"g":-63,"t":25},
{"d":"2020/05/22","o":130,"n":66,"b":66,"g":-41,"t":25},
{"d":"2020/05/29","o":116,"n":59,"b":73,"g":-44,"t":25},
{"d":"2020/06/05","o":156,"n":112,"b":59,"g":-30,"t":22},
{"d":"2020/06/12","o":102,"n":87,"b":84,"g":-13,"t":20},
{"d":"2020/06/19","o":316,"n":230,"b":76,"g":-1,"t":15},
{"d":"2020/06/26","o":276,"n":199,"b":87,"g":-20,"t":20},
{"d":"2020/07/03","o":333,"n":237,"b":84,"g":30,"t":15},
{"d":"2020/07/10","o":352,"n":276,"b":90,"g":-10,"t":12},
{"d":"2020/07/17","o":402,"n":295,"b":94,"g":16,"t":12},
{"d":"2020/07/24","o":290,"n":199,"b":84,"g":19,"t":15},
{"d":"2020/07/31","o":295,"n":230,"b":52,"g":19,"t":20},
{"d":"2020/08/07","o":319,"n":247,"b":59,"g":16,"t":10},
{"d":"2020/08/14","o":352,"n":285,"b":66,"g":9,"t":25},
{"d":"2020/08/21","o":273,"n":195,"b":52,"g":30,"t":5},
{"d":"2020/08/28","o":295,"n":242,"b":44,"g":-1,"t":20},
{"d":"2020/09/04","o":359,"n":247,"b":59,"g":41,"t":25},
{"d":"2020/09/11","o":373,"n":256,"b":73,"g":37,"t":10},
{"d":"2020/09/18","o":359,"n":276,"b":70,"g":9,"t":15},
{"d":"2020/09/25","o":295,"n":195,"b":73,"g":9,"t":20},
{"d":"2020/10/02","o":371,"n":273,"b":76,"g":19,"t":25},
{"d":"2020/10/09","o":381,"n":305,"b":66,"g":-6,"t":30},
{"d":"2020/10/16","o":416,"n":290,"b":109,"g":6,"t":20},
{"d":"2020/10/23","o":338,"n":219,"b":94,"g":19,"t":25}
],
"R4":[
{"d":"2020/01/10","o":0,"n":0,"b":0,"g":0,"t":0},
{"d":"2020/01/17","o":-19,"n":-1,"b":-4,"g":0,"t":-5},
{"d":"2020/01/24","o":149,"n":98,"b":-9,"g":52,"t":-3},
{"d":"2020/01/31","o":26,"n":52,"b":-14,"g":32,"t":2},
{"d":"2020/02/07","o":75,"n":67,"b":-24,"g":32,"t":3},
{"d":"2020/02/14","o":21,"n":21,"b":-38,"g":37,"t":5},
{"d":"2020/02/21","o":67,"n":82,"b":-30,"g":21,"t":8},
{"d":"2020/02/28","o":11,"n":67,"b":-27,"g":-27,"t":10},
{"d":"2020/03/06","o":45,"n":77,"b":-35,"g":-4,"t":15},
{"d":"2020/03/13","o":47,"n":37,"b":-33,"g":26,"t":22},
{"d":"2020/03/20","o":164,"n":67,"b":11,"g":42,"t":25},
{"d":"2020/03/27","o":133,"n":103,"b":82,"g":-14,"t":15},
{"d":"2020/04/03","o":200,"n":52,"b":77,"g":86,"t":15},
{"d":"2020/04/10","o":164,"n":57,"b":62,"g":62,"t":12},
{"d":"2020/04/17","o":235,"n":118,"b":52,"g":57,"t":10},
{"d":"2020/04/24","o":230,"n":108,"b":67,"g":72,"t":10},
{"d":"2020/05/01","o":205,"n":118,"b":72,"g":72,"t":-5},
{"d":"2020/05/08","o":189,"n":67,"b":62,"g":26,"t":-3},
{"d":"2020/05/15","o":179,"n":72,"b":67,"g":62,"t":-8},
{"d":"2020/05/22","o":291,"n":144,"b":82,"g":82,"t":-4},
{"d":"2020/05/29","o":264,"n":142,"b":77,"g":57,"t":-6},
{"d":"2020/06/05","o":245,"n":123,"b":98,"g":47,"t":8},
{"d":"2020/06/12","o":337,"n":184,"b":103,"g":47,"t":-2},
{"d":"2020/06/19","o":77,"n":52,"b":52,"g":42,"t":5},
{"d":"2020/06/26","o":75,"n":32,"b":42,"g":32,"t":3},
{"d":"2020/07/03","o":67,"n":6,"b":37,"g":42,"t":5},
{"d":"2020/07/10","o":19,"n":-40,"b":32,"g":37,"t":8},
{"d":"2020/07/17","o":23,"n":-52,"b":37,"g":37,"t":6},
{"d":"2020/07/24","o":154,"n":21,"b":42,"g":62,"t":12},
{"d":"2020/07/31","o":144,"n":42,"b":72,"g":52,"t":10},
{"d":"2020/08/07","o":111,"n":32,"b":47,"g":52,"t":14},
{"d":"2020/08/14","o":77,"n":-19,"b":47,"g":47,"t":15},
{"d":"2020/08/21","o":169,"n":98,"b":50,"g":26,"t":15},
{"d":"2020/08/28","o":184,"n":42,"b":44,"g":88,"t":20},
{"d":"2020/09/04","o":123,"n":32,"b":37,"g":37,"t":25},
{"d":"2020/09/11","o":108,"n":47,"b":52,"g":32,"t":20},
{"d":"2020/09/18","o":110,"n":52,"b":52,"g":54,"t":25},
{"d":"2020/09/25","o":174,"n":103,"b":50,"g":52,"t":25},
{"d":"2020/10/02","o":162,"n":52,"b":72,"g":72,"t":30},
{"d":"2020/10/09","o":156,"n":57,"b":77,"g":80,"t":32},
{"d":"2020/10/16","o":138,"n":67,"b":72,"g":67,"t":35},
{"d":"2020/10/23","o":235,"n":133,"b":67,"g":67,"t":35}
]
}
}
